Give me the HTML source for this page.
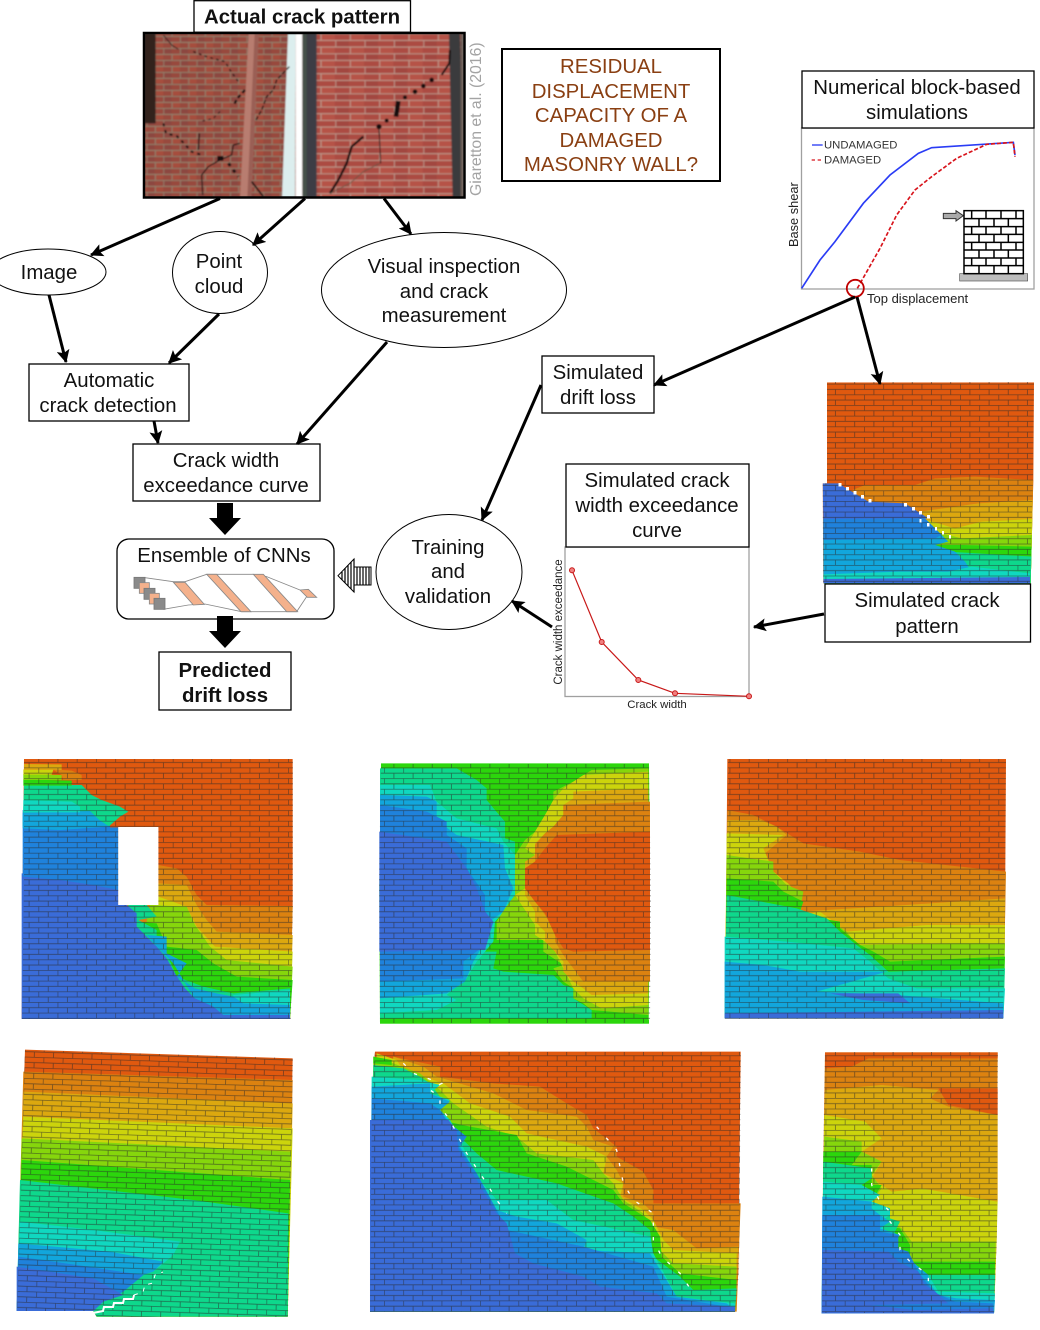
<!DOCTYPE html>
<html><head><meta charset="utf-8"><title>Residual displacement capacity diagram</title>
<style>
html,body{margin:0;padding:0;background:#fff}
svg{display:block}
text{font-family:"Liberation Sans",sans-serif;fill:#111}
.m{text-anchor:middle;font-size:20.4px}
.res{text-anchor:middle;font-size:20.4px;fill:#8a3f12}
.box{fill:#fff;stroke:#000;stroke-width:1.3}
.arr{stroke:#000;stroke-width:3;fill:none;marker-end:url(#ah)}
.o{fill:#e0590f}.d{fill:#dc8210}.g{fill:#dca80f}.y{fill:#ccd40c}.l{fill:#86d60c}.n{fill:#2cd60c}.t{fill:#0ed88c}.c{fill:#10d8c0}.s{fill:#12a6dc}.b{fill:#1f82dc}.v{fill:#3a6cd8}
.crk{fill:none;stroke:#fff;stroke-width:4;stroke-dasharray:10 34}
</style></head><body>
<svg width="1040" height="1330" viewBox="0 0 1040 1330" xmlns="http://www.w3.org/2000/svg">
<defs>
<marker id="ah" viewBox="0 0 12 12" refX="11" refY="6" markerWidth="13" markerHeight="13" markerUnits="userSpaceOnUse" orient="auto"><path d="M0 0L12 6L0 12L2.5 6Z" fill="#000"/></marker>
<pattern id="br" width="19.2" height="10.66" patternUnits="userSpaceOnUse">
<path d="M0 .3H19.2M0 5.63H19.2M.3 0V5.33M9.9 5.33V10.66" stroke="#2a2a2a" stroke-opacity=".6" stroke-width=".8" fill="none"/></pattern>
<pattern id="brt" width="19.2" height="10.66" patternUnits="userSpaceOnUse" patternTransform="rotate(1.8)">
<path d="M0 .3H19.2M0 5.63H19.2M.3 0V5.33M9.9 5.33V10.66" stroke="#2a2a2a" stroke-opacity=".6" stroke-width=".8" fill="none"/></pattern>
<pattern id="phL" width="50" height="36" patternUnits="userSpaceOnUse">
<rect width="50" height="36" fill="#98483d"/><rect x="0" y="0" width="24" height="16" fill="#8c4640"/><rect x="26" y="18" width="24" height="16" fill="#a64e3e"/>
<path d="M0 1H50M0 19H50M1 0V18M26 18V36" stroke="#8f8470" stroke-width="3" fill="none"/></pattern>
<pattern id="phR" width="88" height="40" patternUnits="userSpaceOnUse">
<rect width="88" height="40" fill="#ac4c42"/><rect x="0" y="0" width="40" height="20" fill="#a24640"/><rect x="46" y="20" width="40" height="20" fill="#b65346"/>
<path d="M0 1H88M0 21H88M1 0V20M45 20V40" stroke="#bd9f92" stroke-width="3" fill="none"/></pattern>
<filter id="bl" x="-5%" y="-5%" width="110%" height="110%"><feGaussianBlur stdDeviation="2.6"/></filter>
<clipPath id="cPh"><rect x="43" y="100" width="958" height="493"/></clipPath>
<clipPath id="c0"><polygon points="36,22 657,22 655,315 647,625 25,625 23,325 36,325"/></clipPath>
</defs>
<rect width="1040" height="1330" fill="#fff"/>

<!-- photo -->
<g transform="translate(130,0) scale(.33333)">
<g clip-path="url(#cPh)"><g filter="url(#bl)">
<rect x="43" y="100" width="458" height="493" fill="url(#phL)"/>
<rect x="43" y="100" width="34" height="270" fill="#33231f"/>
<polygon points="356,100 386,100 364,593 330,593" fill="#b87d6f"/>
<polygon points="374,100 386,100 364,593 352,593" fill="#9a5f55"/>
<polygon points="474,100 497,100 495,593 456,593" fill="#dceeee"/>
<rect x="497" y="100" width="20" height="493" fill="#fff"/>
<rect x="517" y="100" width="484" height="493" fill="url(#phR)"/>
<rect x="517" y="100" width="20" height="493" fill="#45514a"/>
<rect x="530" y="100" width="30" height="493" fill="#3c3c44"/>
<polygon points="957,100 990,100 1001,593 968,593" fill="#3b3a3c"/>
<rect x="992" y="100" width="9" height="493" fill="#6c5f58"/>
<g fill="none" stroke="#120e0e" stroke-linejoin="round">
<path d="M100 105L125 135L145 148" stroke-width="2.500"/>
<path d="M190 155L230 170L285 185L300 210L325 245" stroke-width="4" stroke-dasharray="8 10"/>
<path d="M345 270L322 295L310 318" stroke-width="7" stroke-dasharray="12 8"/>
<path d="M270 335L250 355L210 365" stroke-width="3" stroke-dasharray="8 10"/>
<path d="M100 370L108 400L140 408L160 428L185 455L215 465" stroke-width="6" stroke-dasharray="9 12"/>
<path d="M208 400L205 450" stroke-width="4"/>
<path d="M262 475H280" stroke-width="14"/>
<path d="M295 490L325 530" stroke-width="9" stroke-dasharray="10 14"/>
<path d="M330 430L310 435L305 465L270 480L235 500L215 525L218 585" stroke-width="3.500"/>
<path d="M478 200L440 240L430 270L410 290L395 330L375 365" stroke-width="4" stroke-dasharray="12 6"/>
<path d="M365 545L400 590" stroke-width="5"/>
<path d="M960 150L958 190L935 225" stroke-width="6"/>
<path d="M805 303L798 350" stroke-width="14"/>
<path d="M747 385L752 490" stroke-width="3"/>
<path d="M700 410L665 440L650 490L625 540L600 580" stroke-width="7"/>
<path d="M600 580L660 550L700 515L750 490" stroke-width="2" stroke="#554"/>
</g>
<g fill="#120e0e"><circle cx="905" cy="240" r="7"/><circle cx="880" cy="258" r="7"/><circle cx="855" cy="275" r="7"/><circle cx="825" cy="292" r="6"/><circle cx="770" cy="362" r="6"/><circle cx="747" cy="380" r="8"/></g>
</g></g>
</g>
<rect x="144" y="33" width="320.500" height="164.500" fill="none" stroke="#000" stroke-width="2.500"/>
<text transform="translate(481,196) rotate(-90)" style="font-size:15.800px;fill:#a3a3a3">Giaretton et al. (2016)</text>
<rect class="box" x="194" y="0.700" width="216.500" height="31.500"/>
<text class="m" x="302" y="23.500" style="font-weight:700">Actual crack pattern</text>

<!-- residual -->
<rect x="502" y="49" width="218" height="132" fill="#fff" stroke="#000" stroke-width="2"/>
<text class="res" x="611" y="73">RESIDUAL</text>
<text class="res" x="611" y="98">DISPLACEMENT</text>
<text class="res" x="611" y="122">CAPACITY OF A</text>
<text class="res" x="611" y="147">DAMAGED</text>
<text class="res" x="611" y="171">MASONRY WALL?</text>

<!-- numerical chart -->
<rect x="801.500" y="128" width="232.500" height="161" fill="#fff" stroke="#a0a0a0" stroke-width="1.300"/>
<rect class="box" x="802" y="71" width="232" height="57"/>
<text class="m" x="917" y="94">Numerical block-based</text>
<text class="m" x="917" y="119">simulations</text>
<g transform="translate(780,125) scale(.33333)">
<polyline points="65,490 120,405 165,350 250,235 330,150 415,85 455,68 700,52 705,90" fill="none" stroke="#2a3cf5" stroke-width="5"/>
<polyline points="232,490 300,370 350,270 405,195 455,155 530,100 620,58 700,52 705,95" fill="none" stroke="#d8141c" stroke-width="5" stroke-dasharray="12 6"/>
<line x1="96" y1="60" x2="128" y2="60" stroke="#2a3cf5" stroke-width="4"/>
<line x1="95" y1="105" x2="128" y2="105" stroke="#d8141c" stroke-width="4" stroke-dasharray="10 8"/>
<polygon points="490,265 528,265 528,257 550,272 528,288 528,281 490,281" fill="#aaa" stroke="#333" stroke-width="3"/>
<rect x="539" y="446" width="204" height="22" fill="#bdbdbd" stroke="#555" stroke-width="2"/>
<g fill="none" stroke="#000" stroke-width="4.500">
<rect x="552" y="257" width="178" height="189"/>
<path d="M552 281H730M552 305H730M552 328H730M552 352H730M552 375H730M552 399H730M552 422H730"/>
<path d="M575 257V281M618 257V281M663 257V281M708 257V281M597 281V305M642 281V305M685 281V305M575 305V328M618 305V328M663 305V328M708 305V328M597 328V352M642 328V352M685 328V352M575 352V375M618 352V375M663 352V375M708 352V375M597 375V399M642 375V399M685 375V399M575 399V422M618 399V422M663 399V422M708 399V422M597 422V446M642 422V446M685 422V446"/>
</g>
</g>
<circle cx="855.300" cy="288.300" r="8.500" fill="none" stroke="#c00000" stroke-width="1.800"/>
<text x="824" y="148.500" style="font-size:11.300px;fill:#333">UNDAMAGED</text>
<text x="824" y="163.500" style="font-size:11.300px;fill:#333">DAMAGED</text>
<text transform="translate(798,247) rotate(-90)" style="font-size:12.800px;fill:#222">Base shear</text>
<text x="867" y="303" style="font-size:13px;fill:#222">Top displacement</text>

<!-- Ellipses -->
<ellipse cx="48" cy="272" rx="58" ry="23" fill="#fff" stroke="#000" stroke-width="1"/>
<ellipse cx="220" cy="272.500" rx="47.500" ry="41" fill="#fff" stroke="#000" stroke-width="1"/>
<ellipse cx="444" cy="290" rx="122.500" ry="57.500" fill="#fff" stroke="#000" stroke-width="1"/>
<ellipse cx="449" cy="572" rx="73" ry="57.500" fill="#fff" stroke="#000" stroke-width="1"/>
<text class="m" x="49" y="279">Image</text>
<text class="m" x="219" y="268">Point</text><text class="m" x="219" y="293">cloud</text>
<text class="m" x="444" y="273">Visual inspection</text><text class="m" x="444" y="298">and crack</text><text class="m" x="444" y="322">measurement</text>
<text class="m" x="448" y="554">Training</text><text class="m" x="448" y="578">and</text><text class="m" x="448" y="603">validation</text>

<!-- boxes -->
<rect class="box" x="29" y="364" width="160" height="57"/>
<text class="m" x="109" y="387">Automatic</text><text class="m" x="108" y="412">crack detection</text>
<rect class="box" x="133" y="444" width="187" height="57"/>
<text class="m" x="226" y="467">Crack width</text><text class="m" x="226" y="492">exceedance curve</text>
<rect class="box" x="117" y="539" width="217" height="80" rx="12"/>
<text class="m" x="224" y="562">Ensemble of CNNs</text>
<rect class="box" x="159" y="652" width="132" height="58"/>
<text class="m" x="225" y="677" style="font-weight:700">Predicted</text><text class="m" x="225" y="702" style="font-weight:700">drift loss</text>
<rect class="box" x="542" y="356" width="112" height="57"/>
<text class="m" x="598" y="379">Simulated</text><text class="m" x="598" y="404">drift loss</text>

<!-- CNN figure -->
<g transform="translate(110,530) scale(.33333)" stroke="#888" stroke-width="2.500">
<polyline points="105,143 190,155 225,155 290,133 430,133 470,140 570,180" fill="none"/>
<polyline points="160,238 235,225 285,222 395,245 560,245 590,200" fill="none"/>
<rect x="72" y="142" width="33" height="33" fill="#8a8a8a" stroke="#777"/>
<rect x="88" y="158" width="30" height="32" fill="#f4b18c"/>
<rect x="102" y="175" width="33" height="33" fill="#8a8a8a" stroke="#777"/>
<rect x="118" y="190" width="30" height="32" fill="#f4b18c"/>
<rect x="132" y="205" width="33" height="33" fill="#8a8a8a" stroke="#777"/>
<polygon points="190,157 225,157 283,223 250,225" fill="#f4b18c"/>
<polygon points="290,133 320,133 423,245 393,245" fill="#f4b18c"/>
<polygon points="430,133 460,133 563,245 530,245" fill="#f4b18c"/>
<polygon points="570,180 595,178 620,202 592,202" fill="#f4b18c"/>
</g>

<!-- Big arrows -->
<polygon points="217,503 233,503 233,518 241,518 225,535 209,518 217,518" fill="#000"/>
<polygon points="217,616 233,616 233,631 241,631 225,648 209,631 217,631" fill="#000"/>
<polygon points="338,575.700 354,559 354,567 371,567 371,585 354,585 354,592" fill="#fff" stroke="#000" stroke-width="1"/>
<path d="M342 572V580M345 568V583M348 565V586M351 562V589M354 559V592M357 567V585M360 567V585M363 567V585M366 567V585M369 567V585" stroke="#000" stroke-width="1.200" fill="none"/>

<!-- Crack exceedance chart -->
<rect x="565" y="547" width="184" height="149.500" fill="#fff" stroke="#a0a0a0" stroke-width="1.300"/>
<rect class="box" x="566" y="464" width="183" height="83"/>
<text class="m" x="657" y="487">Simulated crack</text><text class="m" x="657" y="512">width exceedance</text><text class="m" x="657" y="537">curve</text>
<polyline points="572,570.300 601.700,642 638.300,680 675,693.300 749,696.300" fill="none" stroke="#c81818" stroke-width="1.200"/>
<g fill="#f08080" stroke="#c81818" stroke-width="1"><circle cx="572" cy="570.300" r="2.500"/><circle cx="601.700" cy="642" r="2.500"/><circle cx="638.300" cy="680" r="2.500"/><circle cx="675" cy="693.300" r="2.500"/><circle cx="749" cy="696.300" r="2.500"/></g>
<text x="657" y="708" text-anchor="middle" style="font-size:11.400px;fill:#222">Crack width</text>
<text transform="translate(562,622) rotate(-90)" text-anchor="middle" style="font-size:11.500px;fill:#222">Crack width exceedance</text>

<!-- Top-right FE panel -->
<g transform="translate(815,375) scale(.33333)"><g clip-path="url(#c0)">
<rect width="700" height="650" class="o"/>
<polygon class="d" points="150,330 300,330 360,310 480,305 655,315 647,625 25,625 25,380"/>
<polygon class="g" points="315,410 490,385 655,375 650,625 25,625"/>
<polygon class="y" points="320,430 420,460 500,440 655,432 650,625 25,625"/>
<polygon class="l" points="380,475 440,490 655,480 650,625 25,625"/>
<polygon class="n" points="360,510 440,510 655,515 650,625 25,625"/>
<polygon class="t" points="400,530 655,545 650,625 25,625"/>
<polygon class="s" points="25,430 340,440 380,480 400,500 360,510 420,530 450,560 470,590 25,600"/>
<polygon class="c" points="25,598 250,590 400,590 470,575 645,595 645,610 25,612"/>
<polygon class="b" points="25,430 330,430 380,480 360,490 25,495"/>
<polygon class="v" points="23,325 70,325 160,380 270,385 340,430 25,432"/>
<polygon class="v" points="25,612 645,606 645,625 25,625"/>
</g></g>
<polygon points="827,382 1034,382 1033,480 1030,583 823,583 822.700,483 827,483" fill="url(#br)"/>
<g fill="#fff"><rect x="838.500" y="483" width="3" height="3.500"/><rect x="846" y="487" width="3" height="3.500"/><rect x="853.500" y="491" width="3" height="3.500"/><rect x="861" y="495" width="3" height="3.500"/><rect x="868.500" y="499" width="3" height="3.500"/><rect x="904" y="503" width="3" height="3.500"/><rect x="912" y="507" width="3" height="3.500"/><rect x="919" y="511" width="3" height="3.500"/><rect x="927" y="515" width="3" height="3.500"/><rect x="919.500" y="519" width="2" height="3.500"/><rect x="927" y="523" width="2.500" height="3.500"/><rect x="935" y="527" width="2" height="3.500"/><rect x="942" y="531" width="2" height="3.500"/><rect x="949" y="535" width="2" height="3.500"/></g>
<rect class="box" x="825" y="584" width="205.500" height="58"/>
<text class="m" x="927" y="607">Simulated crack</text><text class="m" x="927" y="633">pattern</text>

<!-- P1 -->
<g transform="translate(10,750) scale(.33333)">
<polygon class="o" points="42,27 848,27 848,465 840,807 35,807 38,380"/>
<polygon class="d" points="445,345 500,355 530,380 560,435 590,465 848,468 840,807 350,807 350,465 445,465"/>
<polygon class="g" points="445,400 530,405 560,465 590,510 620,545 848,555 840,807 350,807"/>
<polygon class="y" points="445,440 530,470 560,530 615,590 848,605 840,807 350,807"/>
<polygon class="l" points="420,465 530,470 555,525 600,590 650,630 848,650 840,807 350,807"/>
<polygon class="n" points="385,515 440,520 470,590 560,600 610,640 680,680 848,690 840,807 350,807"/>
<polygon class="t" points="355,465 410,465 440,500 385,510 440,540 440,590 470,610 500,680 580,710 670,730 840,715 840,807 350,807"/>
<polygon class="c" points="670,735 840,720 840,770 670,790"/>
<polygon class="s" points="410,555 470,560 470,610 530,640 500,680 555,715 620,730 670,740 700,760 840,765 840,800 610,800 550,740 490,640 440,590"/>
<polygon class="v" points="35,370 325,370 325,465 350,465 380,490 380,530 410,560 440,590 470,625 495,670 525,715 555,745 610,770 640,795 840,795 840,807 35,807"/>
<polygon class="b" points="38,180 300,180 300,232 325,232 325,420 250,405 150,390 38,380"/>
<polygon class="t" points="42,105 215,105 245,135 275,150 330,170 355,185 330,200 298,228 38,228"/>
<polygon class="s" points="38,188 240,183 268,210 298,230 150,240 38,235"/>
<polygon class="c" points="40,150 185,155 210,170 210,187 40,187"/>
<polygon class="n" points="40,88 185,92 185,107 40,107"/>
<polygon class="l" points="40,72 155,75 155,90 40,90"/>
<polygon class="y" points="40,58 130,60 125,74 40,74"/>
<polygon class="g" points="42,42 155,43 155,60 42,60"/>
<polygon class="d" points="128,58 185,62 215,75 215,90 160,90 155,75"/>
<rect x="325" y="232" width="120" height="233" fill="#fff"/>
</g>
<polygon points="24,759 293,759 293,907 291,1019 22,1019 24,880" fill="url(#br)"/>
<rect x="118.300" y="827" width="40" height="78" fill="#fff"/>

<!-- P2 -->
<g transform="translate(370,755) scale(.33333)">
<polygon class="n" points="33,25 837,25 840,400 836,806 30,806 28,400"/>
<polygon class="t" points="30,40 260,40 320,75 350,100 350,135 375,165 405,200 405,250 435,260 435,340 405,450 375,500 345,590 380,590 370,640 400,650 550,660 580,690 610,700 610,730 665,765 665,790 30,790"/>
<polygon class="c" points="30,90 180,90 200,140 260,190 380,220 400,260 435,300 460,340 430,440 375,500 370,560 320,620 290,670 230,720 260,735 200,765 30,775"/>
<polygon class="s" points="30,120 170,125 200,140 200,195 260,240 400,270 405,340 430,400 400,470 345,510 345,560 310,620 285,680 230,715 30,730"/>
<polygon class="b" points="30,150 170,170 230,200 230,240 290,280 290,340 345,420 345,470 370,500 345,570 280,620 280,670 30,680"/>
<polygon class="v" points="28,230 230,260 290,340 320,400 345,470 370,500 345,585 28,590"/>
<polygon class="l" points="835,40 665,45 610,80 580,95 550,110 550,140 525,180 495,230 465,255 435,300 435,420 405,460 380,500 380,555 520,555 520,590 580,630 550,640 580,680 610,700 610,730 640,745 665,765 835,780"/>
<polygon class="y" points="835,50 640,60 610,80 580,100 550,135 525,180 495,230 465,280 495,300 465,340 465,400 435,420 465,465 495,510 495,540 525,560 555,590 610,700 640,730 695,760 835,750"/>
<polygon class="g" points="835,100 610,110 610,130 580,150 580,190 550,215 525,235 495,265 495,300 465,320 465,420 495,470 495,500 525,530 525,560 555,590 580,620 580,650 610,680 640,700 665,720 835,715"/>
<polygon class="d" points="840,140 580,150 580,180 550,215 525,235 495,270 495,320 465,340 465,400 495,440 525,480 555,520 555,560 580,600 610,640 640,680 840,680"/>
<polygon class="o" points="840,230 560,240 525,280 495,320 465,340 465,400 495,440 525,475 555,540 580,580 610,590 840,585"/>
<polygon class="n" points="30,794 837,794 837,806 30,806"/>
</g>
<polygon points="381,764 649,764 651,900 650,1023 380,1023 379,880" fill="url(#br)"/>

<!-- P3 -->
<g transform="translate(720,755) scale(.33333)">
<polygon class="o" points="22,12 858,12 855,500 850,790 14,790 18,480"/>
<polygon class="d" points="22,165 100,180 170,215 250,265 420,290 540,315 858,350 855,500 850,790 14,790"/>
<polygon class="g" points="22,195 120,195 170,215 200,240 130,300 165,370 240,420 240,470 480,455 855,430 850,790 14,790"/>
<polygon class="y" points="20,235 190,240 130,280 160,350 210,390 250,480 300,470 380,530 620,510 855,510 850,790 14,790"/>
<polygon class="l" points="20,300 160,320 160,350 200,390 250,410 240,470 320,490 380,530 410,570 700,565 855,565 850,790 14,790"/>
<polygon class="n" points="20,370 160,380 190,410 250,440 240,470 300,490 360,500 360,520 420,570 460,590 510,620 855,605 850,790 14,790"/>
<polygon class="t" points="20,420 230,460 320,490 360,530 410,570 450,600 505,650 855,640 850,790 14,790"/>
<polygon class="c" points="14,545 200,560 400,580 450,620 505,670 590,700 855,700 850,790 14,790"/>
<polygon class="s" points="14,620 130,630 240,650 500,650 360,690 290,710 530,720 850,745 850,790 14,790"/>
<polygon class="v" points="330,715 535,715 570,745 430,735"/>
<polygon class="v" points="14,775 850,765 850,790 14,790"/>
</g>
<polygon points="728,759 1006,759 1005,922 1003,1019 725,1019 726,915" fill="url(#br)"/>

<!-- P4 -->
<g transform="translate(10,1045) scale(.33333)">
<polygon class="o" points="45,14 848,40 833,815 260,815 250,798 20,798"/>
<polygon class="d" points="40,80 848,105 833,815 260,815 250,798 20,798"/>
<polygon class="g" points="40,140 848,175 833,815 260,815 250,798 20,798"/>
<polygon class="y" points="40,215 848,250 833,815 260,815 250,798 20,798"/>
<polygon class="l" points="35,280 842,320 833,815 260,815 250,798 20,798"/>
<polygon class="n" points="35,345 840,405 833,815 260,815 250,798 20,798"/>
<polygon class="t" points="30,405 550,465 835,505 833,815 260,815 250,798 20,798"/>
<polygon class="c" points="30,530 250,555 510,590 490,630 430,680 20,798"/>
<polygon class="s" points="25,595 300,620 460,650 430,680 400,690 340,740 280,770 250,798 20,798"/>
<polygon class="b" points="25,635 200,660 400,690 340,740 280,770 250,798 20,798"/>
<polygon class="v" points="20,665 250,700 340,750 280,770 250,798 20,798"/>
</g>
<polygon points="25,1050 293,1058 288,1317 97,1317 93,1311 17,1311" fill="url(#brt)"/>
<polyline points="93,1313 103,1311 104,1307 113,1307 114,1303 123,1303 124,1299 133,1299 134,1295" fill="none" stroke="#fff" stroke-width="2"/>
<polyline points="134,1295 143,1292 145,1285 153,1283 155,1275 163,1272" fill="none" stroke="#fff" stroke-width="1" stroke-dasharray="4 6"/>

<!-- P5 -->
<g transform="translate(360,1040) scale(.33333)">
<polygon class="o" points="45,35 1142,35 1135,700 1125,815 30,815 35,150"/>
<polygon class="d" points="100,50 240,80 240,110 400,130 540,140 620,190 680,225 700,265 770,320 770,350 850,395 880,450 880,490 1142,490 1130,815 30,815"/>
<polygon class="g" points="100,50 190,80 230,110 400,160 500,210 650,230 680,260 700,300 760,320 740,350 770,390 790,430 790,470 850,490 880,520 880,560 940,570 1010,625 1135,620 1125,815 30,815"/>
<polygon class="y" points="50,40 110,60 130,90 250,130 330,190 450,230 500,280 680,320 740,350 730,400 790,430 780,470 850,510 880,540 910,600 940,630 1130,640 1125,815 30,815"/>
<polygon class="l" points="40,50 100,70 180,100 240,150 280,190 380,260 470,290 530,340 700,360 730,400 760,430 790,480 850,520 880,570 900,630 940,670 1130,680 1125,815 30,815"/>
<polygon class="n" points="240,240 330,260 470,285 500,340 620,380 760,450 790,490 870,540 900,590 905,650 960,700 1130,720 1125,815 30,815"/>
<polygon class="t" points="40,75 130,85 180,110 210,130 240,170 240,210 270,240 300,290 350,340 410,390 590,430 760,490 820,530 870,570 880,650 960,710 1000,750 1130,745 1125,815 30,815"/>
<polygon class="c" points="35,110 180,120 240,135 210,160 270,180 240,210 270,240 300,300 350,410 410,480 560,480 640,540 870,590 880,640 950,770 1125,790 1125,815 30,815"/>
<polygon class="s" points="35,140 210,130 210,160 270,185 240,210 270,250 320,290 300,320 350,400 410,510 470,530 590,550 680,600 670,630 870,640 950,770 1100,790 1125,810 30,815"/>
<polygon class="b" points="35,175 210,190 240,210 265,250 320,290 295,320 350,400 410,510 440,570 670,620 880,680 920,770 1100,800 30,815"/>
<polygon class="v" points="30,240 265,240 290,270 295,330 320,370 350,420 380,470 410,520 440,550 465,640 520,670 670,710 720,740 890,760 920,790 1125,800 1125,815 30,815"/>
<polygon class="n" points="40,50 95,60 95,75 40,70"/>
</g>
<polygon points="375,1052 741,1052 739,1273 735,1312 370,1312 372,1090" fill="url(#br)"/>
<g transform="translate(360,1040) scale(.33333)">
<polyline class="crk" points="130,70 160,100 245,130 210,150 240,170 240,200 270,240 295,290 320,340 350,385 380,430 410,480 440,520"/>
<polyline class="crk" points="710,260 770,330 790,430 820,480 880,520 880,600 905,650 960,700 1000,760"/>
</g>

<!-- P6 -->
<g transform="translate(815,1045) scale(.33333)">
<polygon class="d" points="30,22 548,22 545,580 537,805 20,805 25,350"/>
<polygon class="o" points="30,22 548,22 548,40 160,40 110,65 30,70"/>
<polygon class="o" points="370,130 548,130 548,210 400,180"/>
<polygon class="g" points="30,135 200,120 370,135 345,160 400,185 548,210 548,470 310,430 230,440 25,440"/>
<polygon class="y" points="28,210 150,230 200,280 140,320 200,350 170,400 230,440 320,430 548,470 545,580 537,805 20,805"/>
<polygon class="l" points="28,275 140,290 140,320 200,350 170,390 200,430 170,470 225,490 195,510 260,550 290,590 370,590 542,590 537,805 20,805"/>
<polygon class="n" points="25,320 140,320 110,360 170,360 170,420 200,420 170,470 225,520 195,540 255,550 285,600 285,650 540,650 537,805 20,805"/>
<polygon class="t" points="25,350 170,370 170,400 140,420 170,470 225,490 225,520 255,530 225,590 280,640 310,680 340,690 540,690 537,805 20,805"/>
<polygon class="c" points="25,410 140,420 195,450 170,470 225,490 225,510 195,530 225,590 280,640 340,690 370,740 540,745 537,805 20,805"/>
<polygon class="s" points="22,455 170,470 170,490 195,510 225,530 195,550 255,570 225,610 280,640 340,690 340,710 370,750 425,760 540,765 537,805 20,805"/>
<polygon class="b" points="22,510 195,510 195,560 250,570 250,610 280,620 310,680 340,720 365,745 420,770 535,775 535,805 20,805"/>
<polygon class="v" points="22,615 220,620 250,650 310,680 330,720 360,740 400,775 165,780 300,795 535,790 537,805 20,805"/>
</g>
<polygon points="825,1052 998,1052 997,1238 994,1313 822,1313 823,1162" fill="url(#br)"/>
<g transform="translate(815,1045) scale(.33333)">
<polyline class="crk" points="170,370 170,420 195,470 225,500 225,530 255,570 255,615 285,650 340,690 340,725"/>
</g>

<!-- Arrows -->
<line class="arr" x1="220" y1="198.500" x2="91" y2="255"/>
<line class="arr" x1="305" y1="198.500" x2="253" y2="245"/>
<line class="arr" x1="384" y1="198.500" x2="411" y2="234"/>
<line class="arr" x1="49" y1="295" x2="66" y2="362"/>
<line class="arr" x1="219" y1="314" x2="169" y2="363"/>
<line class="arr" x1="387" y1="342" x2="297" y2="444"/>
<line class="arr" x1="154" y1="421" x2="158" y2="443"/>
<line class="arr" x1="855" y1="297" x2="654" y2="385"/>
<line class="arr" x1="857" y1="297" x2="880" y2="384"/>
<line class="arr" x1="541" y1="385" x2="482" y2="520"/>
<line class="arr" x1="552" y1="627" x2="512" y2="601"/>
<line class="arr" x1="824" y1="614" x2="754" y2="627"/>
</svg>
</body></html>
